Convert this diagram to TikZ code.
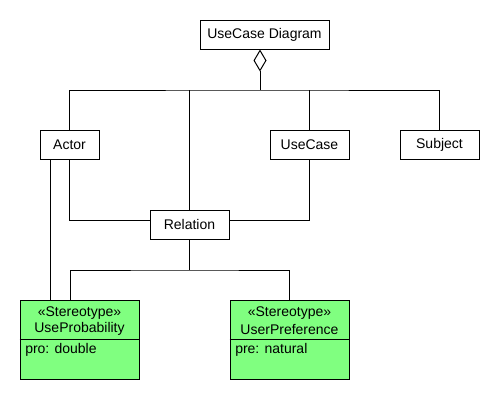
\documentclass[tikz,border=0pt]{standalone}
\usepackage{fontspec}
\setmainfont{Liberation Sans}
\usetikzlibrary{arrows.meta}
\definecolor{stgreen}{HTML}{80FF80}
\tikzset{
  box/.style={draw, line width=0.75pt, fill=white, inner sep=0pt, font=\fontsize{10.5}{12}\selectfont},
  stbox/.style={draw, line width=0.75pt, fill=stgreen, inner sep=0pt, minimum width=119*0.75pt, minimum height=79*0.75pt},
  lbl/.style={inner sep=0pt, font=\fontsize{10.5}{12}\selectfont},
  conn/.style={line width=0.75pt}
}
\begin{document}
\begin{tikzpicture}[x=0.75pt, y=-0.75pt]
\useasboundingbox (0,0) rectangle (500,400);
\node[box, minimum width=129*0.75pt, minimum height=29*0.75pt] (diag) at (264.5,34.5) {UseCase Diagram};
\node[box, minimum width=59*0.75pt, minimum height=29*0.75pt] (actor) at (69.5,144.5) {Actor};
\node[box, minimum width=79*0.75pt, minimum height=29*0.75pt] (usecase) at (309.5,144.5) {UseCase};
\node[box, minimum width=79*0.75pt, minimum height=29*0.75pt] (subject) at (439.5,144.5) {Subject};
\node[box, minimum width=79*0.75pt, minimum height=29*0.75pt] (relation) at (189.5,224.5) {Relation};
\node[stbox] (prob) at (79.5,339.5) {};
\node[stbox] (pref) at (289.5,339.5) {};
\draw[conn] (prob.west |- 0,339) -- (prob.east |- 0,339);
\draw[conn] (pref.west |- 0,339) -- (pref.east |- 0,339);
\node[lbl] (probst) at (79.5,313) {«Stereotype»};
\node[lbl] (probname) at (79.5,329) {UseProbability};
\node[lbl, anchor=west] (probattr) at (25,350) {pro: double};
\node[lbl] (prefst) at (289.5,313) {«Stereotype»};
\node[lbl] (prefname) at (289.5,329) {UserPreference};
\node[lbl, anchor=west] (prefattr) at (235,350) {pre: natural};
\coordinate (bus) at (260,90);
\draw[conn, {Diamond[open, length=22*0.75pt, width=13*0.75pt, line width=0.75pt]}-] (diag.south -| bus) -- (bus);
\draw[conn] (actor.north) |- (bus) -| (subject.north);
\draw[conn] (usecase.north) -- (usecase.north |- bus);
\draw[conn] (relation.north) -- (relation.north |- bus);
\draw[conn] (actor.south) |- (relation.west |- 0,220);
\draw[conn] (usecase.south) |- (relation.east |- 0,220);
\draw[conn] (actor.south -| 50,0) -- (prob.north -| 50,0);
\draw[conn] (relation.south) -- (relation.south |- 0,270);
\draw[conn] (prob.north -| 70,0) |- (relation.south |- 0,270) -| (pref.north);
\end{tikzpicture}
\end{document}
